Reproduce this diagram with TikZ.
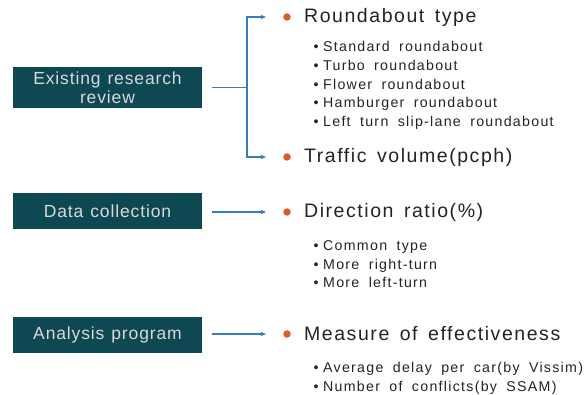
\documentclass[tikz,border=0pt]{standalone}
\usepackage{fontspec}
\setmainfont{Liberation Sans}
\newfontfamily\headfont[LetterSpace=8, WordSpace=1.5]{Liberation Sans}
\newfontfamily\itemfont[LetterSpace=9, WordSpace=1.8]{Liberation Sans}
\newfontfamily\stagefont[LetterSpace=5, WordSpace=1.2]{Liberation Sans}
\newcommand{\itm}{•\hspace{4.5pt}}
\usetikzlibrary{positioning, arrows.meta, calc}
\definecolor{boxteal}{RGB}{14,72,82}
\definecolor{linkblue}{RGB}{52,125,195}
\definecolor{dotorange}{RGB}{222,90,40}
\definecolor{inkgray}{RGB}{35,35,35}

\begin{document}
\begin{tikzpicture}[
  x=1pt, y=-1pt,
  stage/.style={fill=boxteal, text=white!85!black, minimum width=189pt,
                minimum height=36pt, align=center, inner sep=0pt,
                font=\stagefont\fontsize{17.5}{18.5}\selectfont},
  dot/.style={circle, fill=dotorange, inner sep=0pt, minimum size=7.5pt},
  head/.style={anchor=west, text=inkgray, inner sep=0pt,
               font=\headfont\fontsize{19.5}{22}\selectfont},
  items/.style={anchor=north west, align=left, text=inkgray, inner sep=0pt,
                font=\itemfont\fontsize{14.2}{18.6}\selectfont},
  arr/.style={-{Stealth[length=5.5pt,width=4.5pt]}, draw=linkblue,
              line width=1.2pt},
  link/.style={draw=linkblue, line width=1.2pt},
]
\useasboundingbox (0,0) rectangle (585,395);

% left column
\node[stage, minimum height=41pt] (review) at (107.5,87.5)
  {Existing research\\review};
\node[stage] (collect) at (107.5,211) {Data collection};
\node[stage] (analysis) at (107.5,335) {Analysis program};

% bullets
\node[dot] (type)    at (287,17)  {};
\node[dot] (volume)  at (287,157) {};
\node[dot] (ratio)   at (287,212) {};
\node[dot] (moe)     at (287,334) {};

% headings
\node[head, right=13pt of type]   (typeT)   {Roundabout type};
\node[head, right=13pt of volume] (volumeT) {Traffic volume(pcph)};
\node[head, right=13pt of ratio]  (ratioT)  {Direction ratio(\%)};
\node[head, right=13pt of moe]    (moeT)    {Measure of effectiveness};

% sub items
\node[items] (typeL) at (313.5,41.5)
  {\itm Standard roundabout\\\itm Turbo roundabout\\\itm Flower roundabout\\
   \itm Hamburger roundabout\\\itm Left turn slip-lane roundabout};
\node[items] (ratioL) at (313.5,240.5)
  {\itm Common type\\\itm More right-turn\\\itm More left-turn};
\node[items] (moeL) at (313.5,362)
  {\itm Average delay per car(by Vissim)\\\itm Number of conflicts(by SSAM)};

% connectors
\coordinate (fork) at (247,87.5);
\draw[link, shorten <=10pt] (review.east) -- (fork);
\draw[arr, shorten >=17pt] (fork) |- (type);
\draw[arr, shorten >=17pt] (fork) |- (volume);
\draw[arr, shorten <=10pt, shorten >=17pt] (collect.east |- ratio) -- (ratio);
\draw[arr, shorten <=10pt, shorten >=17pt] (analysis.east |- moe) -- (moe);
\end{tikzpicture}
\end{document}
